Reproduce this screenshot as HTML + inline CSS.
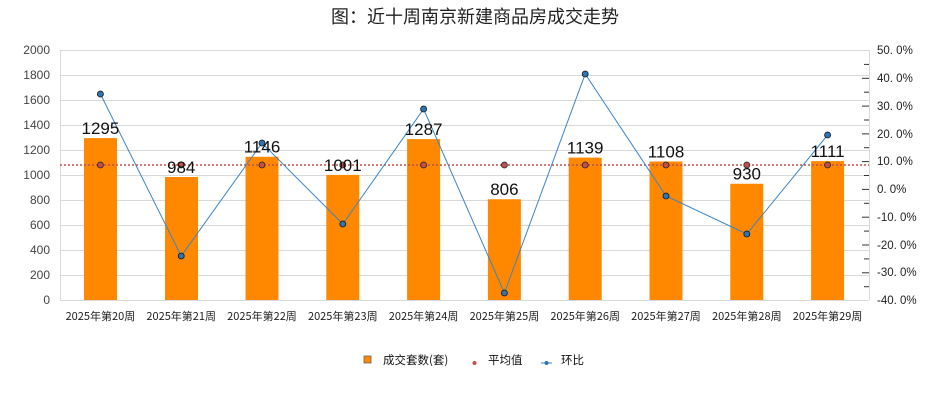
<!DOCTYPE html>
<html><head><meta charset="utf-8"><style>
body{margin:0;background:#fff;}
svg{display:block;font-family:"Liberation Sans","Noto Sans CJK SC",sans-serif;}
</style></head><body>
<svg width="950" height="400" viewBox="0 0 950 400" xmlns="http://www.w3.org/2000/svg">
<text x="475" y="23" text-anchor="middle" font-size="18" fill="#222" font-family="'Noto Sans CJK SC',sans-serif">图：近十周南京新建商品房成交走势</text>
<g stroke="#d9d9d9" stroke-width="1">
<line x1="60" y1="50.5" x2="869" y2="50.5"/><line x1="60" y1="75.5" x2="869" y2="75.5"/><line x1="60" y1="100.5" x2="869" y2="100.5"/><line x1="60" y1="125.5" x2="869" y2="125.5"/><line x1="60" y1="150.5" x2="869" y2="150.5"/><line x1="60" y1="175.5" x2="869" y2="175.5"/><line x1="60" y1="200.5" x2="869" y2="200.5"/><line x1="60" y1="225.5" x2="869" y2="225.5"/><line x1="60" y1="250.5" x2="869" y2="250.5"/><line x1="60" y1="275.5" x2="869" y2="275.5"/><line x1="60" y1="300.5" x2="869" y2="300.5"/>
<line x1="60.5" y1="50" x2="60.5" y2="300"/><line x1="869.5" y1="50" x2="869.5" y2="300"/>
</g>
<g fill="#444" font-size="12" text-anchor="end">
<text x="50" y="54">2000</text><text x="50" y="79">1800</text><text x="50" y="104">1600</text><text x="50" y="129">1400</text><text x="50" y="154">1200</text><text x="50" y="179">1000</text><text x="50" y="204">800</text><text x="50" y="229">600</text><text x="50" y="254">400</text><text x="50" y="279">200</text><text x="50" y="304">0</text>
</g>
<g stroke="#333" stroke-width="1">
<line x1="864" y1="64.4" x2="869" y2="64.4"/><line x1="864" y1="92.2" x2="869" y2="92.2"/><line x1="864" y1="120" x2="869" y2="120"/><line x1="864" y1="147.7" x2="869" y2="147.7"/><line x1="864" y1="175.5" x2="869" y2="175.5"/><line x1="864" y1="203.3" x2="869" y2="203.3"/><line x1="864" y1="231.1" x2="869" y2="231.1"/><line x1="864" y1="258.9" x2="869" y2="258.9"/><line x1="864" y1="286.7" x2="869" y2="286.7"/>
<line x1="862" y1="78.3" x2="869" y2="78.3"/><line x1="862" y1="106.1" x2="869" y2="106.1"/><line x1="862" y1="133.9" x2="869" y2="133.9"/><line x1="862" y1="161.6" x2="869" y2="161.6"/><line x1="862" y1="189.4" x2="869" y2="189.4"/><line x1="862" y1="217.2" x2="869" y2="217.2"/><line x1="862" y1="245" x2="869" y2="245"/><line x1="862" y1="272.8" x2="869" y2="272.8"/>
</g>
<g fill="#222" font-size="11.5">
<text x="877" y="54">50. 0%</text><text x="877" y="82">40. 0%</text><text x="877" y="110">30. 0%</text><text x="877" y="138">20. 0%</text><text x="877" y="165">10. 0%</text><text x="877" y="193">0. 0%</text><text x="877" y="221">-10. 0%</text><text x="877" y="249">-20. 0%</text><text x="877" y="276">-30. 0%</text><text x="877" y="304">-40. 0%</text>
</g>
<g fill="#ff8800">
<rect x="84" y="138.1" width="33" height="161.9"/><rect x="165" y="177" width="33" height="123"/><rect x="245.5" y="156.75" width="33" height="143.25"/><rect x="326.3" y="174.9" width="33" height="125.1"/><rect x="407.1" y="139.1" width="33" height="160.9"/><rect x="487.9" y="199.25" width="33" height="100.75"/><rect x="568.7" y="157.6" width="33" height="142.4"/><rect x="649.5" y="161.5" width="33" height="138.5"/><rect x="730.3" y="183.75" width="33" height="116.25"/><rect x="811.1" y="161.1" width="33" height="138.9"/>
</g>
<line x1="60" y1="165" x2="869" y2="165" stroke="#c0504d" stroke-width="1.5" stroke-dasharray="2,2"/>
<g fill="#c0504d" stroke="#222" stroke-width="0.8">
<circle cx="100.4" cy="165" r="3"/><circle cx="181.2" cy="165" r="3"/><circle cx="262" cy="165" r="3"/><circle cx="342.8" cy="165" r="3"/><circle cx="423.6" cy="165" r="3"/><circle cx="504.4" cy="165" r="3"/><circle cx="585.2" cy="165" r="3"/><circle cx="666" cy="165" r="3"/><circle cx="746.8" cy="165" r="3"/><circle cx="827.6" cy="165" r="3"/>
</g>
<polyline fill="none" stroke="#3a85c8" stroke-width="1" points="100.4,94 181.2,256 262,143 342.8,224 423.6,109 504.4,293 585.2,74 666,196 746.8,234 827.6,135"/>
<g fill="#2e75b6" stroke="#111" stroke-width="0.8">
<circle cx="100.4" cy="94" r="3"/><circle cx="181.2" cy="256" r="3"/><circle cx="262" cy="143" r="3"/><circle cx="342.8" cy="224" r="3"/><circle cx="423.6" cy="109" r="3"/><circle cx="504.4" cy="293" r="3"/><circle cx="585.2" cy="74" r="3"/><circle cx="666" cy="196" r="3"/><circle cx="746.8" cy="234" r="3"/><circle cx="827.6" cy="135" r="3"/>
</g>
<g fill="#111" font-size="17" text-anchor="middle">
<text x="100.4" y="134">1295</text><text x="181.2" y="173">984</text><text x="262" y="152.5">1146</text><text x="342.8" y="171">1001</text><text x="423.6" y="135">1287</text><text x="504.4" y="195">806</text><text x="585.2" y="153.5">1139</text><text x="666" y="157.5">1108</text><text x="746.8" y="179.5">930</text><text x="827.6" y="157">1111</text>
</g>
<g fill="#222" font-size="11" text-anchor="middle" font-family="'Noto Sans CJK SC',sans-serif">
<text x="100.4" y="320">2025年第20周</text><text x="181.2" y="320">2025年第21周</text><text x="262" y="320">2025年第22周</text><text x="342.8" y="320">2025年第23周</text><text x="423.6" y="320">2025年第24周</text><text x="504.4" y="320">2025年第25周</text><text x="585.2" y="320">2025年第26周</text><text x="666" y="320">2025年第27周</text><text x="746.8" y="320">2025年第28周</text><text x="827.6" y="320">2025年第29周</text>
</g>
<rect x="364" y="356" width="7" height="7" fill="#ff8800" stroke="#666" stroke-width="0.8"/>
<text x="383" y="364" font-size="11.5" fill="#111" font-family="'Noto Sans CJK SC',sans-serif">成交套数(套)</text>
<circle cx="474.5" cy="363" r="2" fill="#c0504d"/>
<text x="488" y="364" font-size="11.5" fill="#111" font-family="'Noto Sans CJK SC',sans-serif">平均值</text>
<line x1="541" y1="363" x2="552" y2="363" stroke="#3a85c8"/><circle cx="546.5" cy="363" r="2" fill="#2e75b6"/>
<text x="561" y="364" font-size="11.5" fill="#111" font-family="'Noto Sans CJK SC',sans-serif">环比</text>
</svg>
</body></html>
